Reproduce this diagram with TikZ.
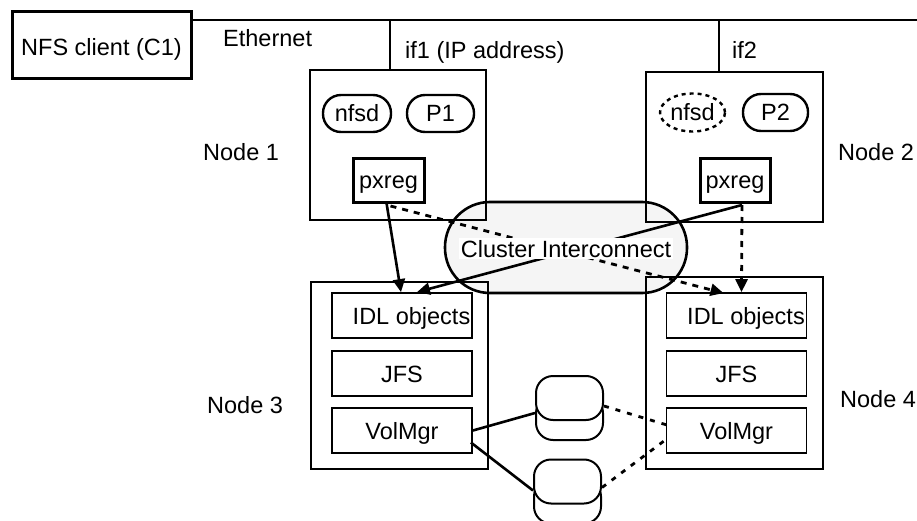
\documentclass[tikz,border=0pt]{standalone}
\usepackage{fontspec}
\setmainfont{Liberation Sans}
\usetikzlibrary{calc,arrows.meta,shapes.geometric}
\begin{document}
\begin{tikzpicture}[x=1pt,y=-1pt,
  every node/.style={font=\fontsize{23.5}{28}\selectfont, inner sep=0pt},
  boxtext/.style={text height=17pt, text depth=0pt},
  host/.style={draw, line width=1.5pt},
  layer/.style={draw, boxtext, line width=1.8pt, minimum width=140pt, minimum height=45pt},
  thickbox/.style={draw, boxtext, line width=3pt},
  proc/.style={draw, boxtext, line width=2.4pt, rounded corners=18pt, minimum height=37pt},
  ghost/.style={draw, boxtext, ellipse, line width=2.4pt, dash pattern=on 4pt off 4pt, minimum width=65pt, minimum height=38pt},
  tip/.style={-{Triangle[length=13pt,width=12pt]}},
  link/.style={line width=2.6pt},
  dashlink/.style={line width=2.8pt, dash pattern=on 6pt off 6pt},
  dotlink/.style={line width=2.8pt, dash pattern=on 5pt off 7pt},
  disk/.style={draw, line width=2pt, fill=white, rounded corners=17pt, minimum width=67pt, minimum height=44pt},
  bus/.style={line width=2.5pt}
]
\useasboundingbox (0,0) rectangle (917,521);

% interconnect cloud (drawn first, boxes sit on top of it)
\node[draw, line width=2.6pt, fill=black!4, rounded corners=45pt,
      minimum width=242pt, minimum height=91pt] (ci) at (566,247.5) {};

% client and network
\node[thickbox, text height=21pt, minimum width=179pt, minimum height=67pt] (client) at (101.5,45) {NFS client (C1)};
\coordinate (ethR) at (917,20);
\draw[bus] (client.east |- ethR) -- (ethR);
\node[anchor=base west] (eth) at (223,47) {Ethernet};

% cluster nodes
\node[host, minimum width=176pt, minimum height=150pt] (node1) at (398,145) {};
\node[host, minimum width=177pt, minimum height=150pt] (node2) at (734.5,147) {};
\node[host, minimum width=177pt, minimum height=187pt] (node3) at (399.5,375.5) {};
\node[host, minimum width=177pt, minimum height=192pt] (node4) at (734.5,373) {};

\node[anchor=base west] (n1lbl) at (203,161) {Node 1};
\node[anchor=base west] (n2lbl) at (838,161) {Node 2};
\node[anchor=base west] (n3lbl) at (207,413) {Node 3};
\node[anchor=base west] (n4lbl) at (840,407) {Node 4};

% network interfaces
\coordinate (if1) at (390,20);
\coordinate (if2) at (719,20);
\draw[bus] (if1) -- (if1 |- node1.north);
\draw[bus] (if2) -- (if2 |- node2.north);
\node[anchor=base west] (if1lbl) at (405,59) {if1 (IP address)};
\node[anchor=base west] (if2lbl) at (732,59) {if2};

% processes
\node[proc, minimum width=68pt] (nfsd1) at (357,113.5) {nfsd};
\node[proc, minimum width=67pt] (p1) at (440.5,113.5) {P1};
\node[ghost] (nfsd2) at (692.5,112.5) {nfsd};
\node[proc, minimum width=65pt] (p2) at (775.5,112.5) {P2};
\node[thickbox, minimum width=71pt, minimum height=44pt] (pxreg1) at (388.5,180.5) {pxreg};
\node[thickbox, minimum width=70pt, minimum height=44pt] (pxreg2) at (735,180.5) {pxreg};

% server stacks
\node[layer] (idl3) at (402,315.5) {\hspace*{19pt}IDL objects};
\node[layer] (jfs3) at (402,373.5) {JFS};
\node[layer] (vol3) at (402,430.5) {VolMgr};
\node[layer] (idl4) at (736.5,315.5) {\hspace*{19pt}IDL objects};
\node[layer] (jfs4) at (736.5,373.5) {JFS};
\node[layer] (vol4) at (736.5,430.5) {VolMgr};

% shared disks
\node[disk] (disk1b) at (569.5,418) {};
\node[disk] (disk1) at (569.5,398) {};
\node[disk] (disk2b) at (567.5,501.5) {};
\node[disk] (disk2) at (567.5,481.5) {};

% requests through the interconnect
\draw[link,tip] ($(pxreg1.south)+(-2,-1)$) -- ($(idl3.north)+(-1,0)$);
\draw[link,tip] ($(pxreg2.south)+(7,1)$) -- ($(idl3.north)+(15,0)$);
\draw[dashlink,tip] ($(pxreg1.south)+(2,2)$) -- ($(idl4.north)+(-13,1)$);
\draw[dashlink,tip] ($(pxreg2.south)+(7,1)$) -- ($(idl4.north)+(5,0)$);

% disk paths
\draw[link] (vol3.east) -- ($(disk1.west)+(0,15)$);
\draw[link] ($(vol3.east)+(-2,12)$) -- ($(disk2.west)+(0,9)$);
\draw[dotlink] ($(disk1.east)+(0,8)$) -- ($(vol4.west)+(3,-5)$);
\draw[dotlink] ($(disk2.east)+(0,6)$) -- ($(vol4.west)+(3,7)$);

\node[anchor=base, fill=white, inner sep=2pt] (cilbl) at (566,257) {Cluster Interconnect};
\end{tikzpicture}
\end{document}
